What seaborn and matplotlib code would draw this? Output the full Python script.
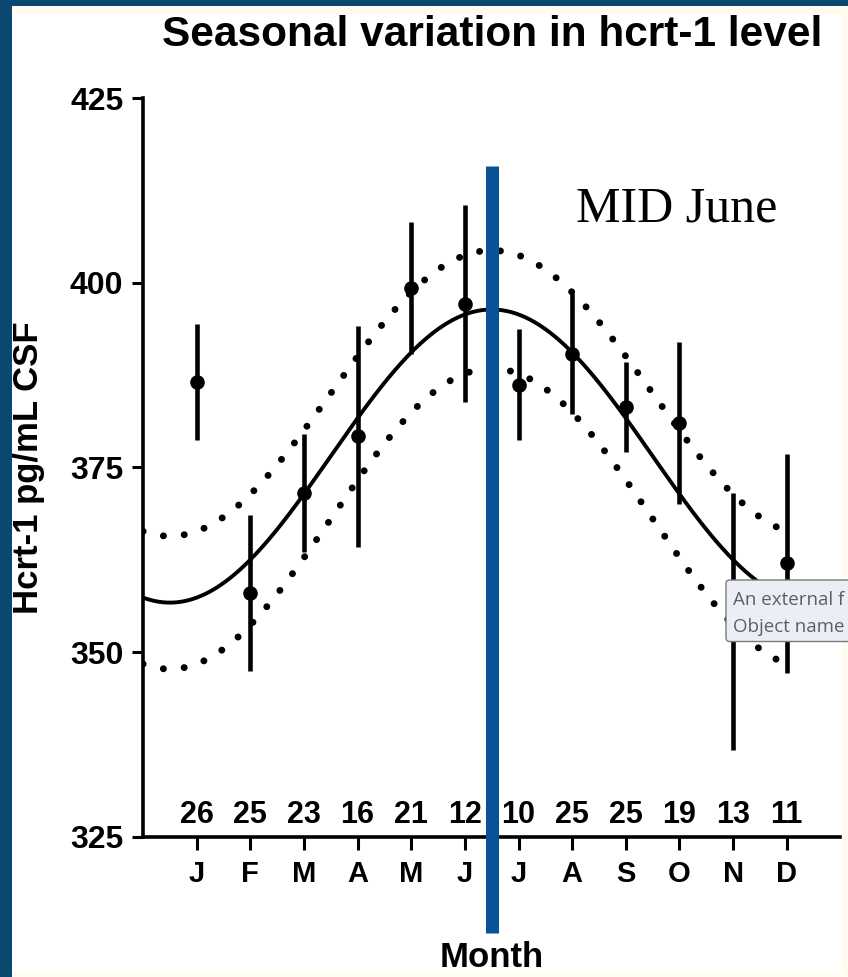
import numpy as np
import pandas as pd
import matplotlib
matplotlib.use("Agg")
import matplotlib.pyplot as plt
import seaborn as sns
from matplotlib.patches import Rectangle, FancyBboxPatch

# data
months = ["J", "F", "M", "A", "M", "J", "J", "A", "S", "O", "N", "D"]
month_pos = [1, 2, 3, 4, 5, 6, 7, 8, 9, 10, 11, 12]
hcrt_mean = [386.6, 358.0, 371.5, 379.2, 399.3, 397.2, 386.2, 390.4, 383.2, 381.0, 354.1, 362.0]
hcrt_sem = [7.9, 10.6, 8.0, 15.0, 8.9, 13.3, 7.5, 8.2, 6.1, 11.0, 17.4, 14.8]
n_subjects = [26, 25, 23, 16, 21, 12, 10, 25, 25, 19, 13, 11]
y_ticks = [325, 350, 375, 400, 425]

# cosinor fit shown in the figure
fit_mesor = 376.55
fit_amplitude = 19.85
fit_peak_month = 6.5
fit_period = 12
band_half_peak = 8.0
band_half_trough = 9.0
mid_june = 6.5

sns.set_theme(style="ticks")
plt.rcParams["font.family"] = ["Liberation Sans", "DejaVu Sans"]
plt.rcParams["text.color"] = "black"
plt.rcParams["axes.labelcolor"] = "black"

fig = plt.figure(figsize=(8.48, 9.77), dpi=100, facecolor="#fffcef")
W, H = 848, 977

# page background + dark frame of the screenshot
fig.add_artist(Rectangle((12 / W, 4 / H), 830 / W, 959 / H, transform=fig.transFigure,
                         facecolor="white", edgecolor="none", zorder=-1))
fig.add_artist(Rectangle((0, 0), 12 / W, 1, transform=fig.transFigure,
                         facecolor="#0a4870", edgecolor="none", zorder=10))
fig.add_artist(Rectangle((0, 1 - 6 / H), 1, 6 / H, transform=fig.transFigure,
                         facecolor="#0a4870", edgecolor="none", zorder=10))

ax = fig.add_axes([0.1687, 0.1436, 0.8223, 0.7558])
ax.set_facecolor("none")

# fitted curve + confidence band, drawn over the year (Jan edge to Dec)
grid = np.linspace(0, 12, 400)
theta = 2 * np.pi * (grid - fit_peak_month) / fit_period
fit = fit_mesor + fit_amplitude * np.cos(theta)
half = (band_half_peak + band_half_trough) / 2 - (band_half_trough - band_half_peak) / 2 * np.cos(theta)
df_fit = pd.DataFrame({"month": grid, "fit": fit, "upper": fit + half, "lower": fit - half})

dots = (0, (0.01, 3.0))
for col in ["upper", "lower"]:
    sns.lineplot(data=df_fit, x="month", y=col, ax=ax, color="black", lw=5.0,
                 linestyle=dots, dash_capstyle="round", zorder=2)
sns.lineplot(data=df_fit, x="month", y="fit", ax=ax, color="black", lw=2.8, zorder=2)

ax.errorbar(month_pos, hcrt_mean, yerr=hcrt_sem, fmt="none", ecolor="black",
            elinewidth=3.3, capsize=0, zorder=3)
sns.scatterplot(x=month_pos, y=hcrt_mean, ax=ax, color="black", s=10.5 ** 2,
                linewidth=0, zorder=4)

# n per month
for x, n in zip(month_pos, n_subjects):
    ax.text(x, 326.8, str(n), ha="center", va="baseline", fontsize=22,
            fontweight="bold", zorder=5)

# mid June marker
ax.plot([mid_june, mid_june], [312.0, 415.8], color="#0a5196", lw=9.4,
        solid_capstyle="butt", clip_on=False, zorder=6)
ax.text(8.08, 408.3, "MID June", family=["Liberation Serif", "DejaVu Serif"],
        fontsize=36, ha="left", va="baseline")

ax.set_xlim(0, 13)
ax.set_ylim(325, 425)
ax.set_xticks(month_pos, months)
ax.set_yticks(y_ticks)
ax.tick_params(axis="y", length=7.7, width=2.2, pad=6.5, labelsize=23, colors="black")
ax.tick_params(axis="x", length=9.6, width=2.2, pad=7.5, labelsize=21, colors="black")
for lbl in ax.get_xticklabels() + ax.get_yticklabels():
    lbl.set_fontweight("bold")
sns.despine(ax=ax)
for s in ["left", "bottom"]:
    ax.spines[s].set_linewidth(2.6)
    ax.spines[s].set_color("black")

ax.set_title("Seasonal variation in hcrt-1 level", fontsize=30.5, fontweight="bold",
             pad=37.7, color="black")
ax.set_xlabel("Month", fontsize=25, fontweight="bold")
ax.set_ylabel("Hcrt-1 pg/mL CSF", fontsize=25, fontweight="bold")
ax.xaxis.set_label_coords(0.5, -0.1418)
ax.yaxis.set_label_coords(-0.1408, 0.5)

# tooltip box from the screenshot
fig.add_artist(FancyBboxPatch((726 / W, 1 - 641.5 / H), 200 / W, 61.5 / H, transform=fig.transFigure,
                              boxstyle="round,pad=0,rounding_size=0.004",
                              facecolor="#eceef5", edgecolor="#7a7a80", lw=1, zorder=9))
fig.text(733 / W, 1 - 605 / H, "An external f", fontsize=13.5, color="#5a5f70",
         family=["Open Sans", "DejaVu Sans"], va="baseline", zorder=9.5)
fig.text(733 / W, 1 - 632 / H, "Object name", fontsize=13.5, color="#5a5f70",
         family=["Open Sans", "DejaVu Sans"], va="baseline", zorder=9.5)

fig.savefig("out.png", dpi=100, facecolor=fig.get_facecolor())
